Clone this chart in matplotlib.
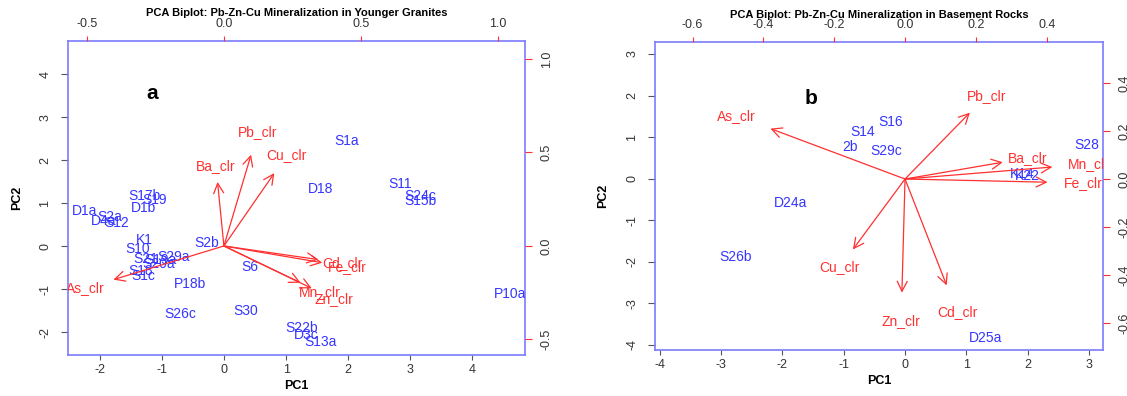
import matplotlib
matplotlib.use("Agg")
from matplotlib import pyplot as plt
from matplotlib.ticker import FormatStrFormatter

plt.rcParams['font.family'] = ['Liberation Sans', 'DejaVu Sans']
plt.rcParams['axes.unicode_minus'] = False

# variables (loadings) -- same order in both panels
var_names = ["As_clr", "Ba_clr", "Cd_clr", "Cu_clr", "Fe_clr", "Mn_clr", "Pb_clr", "Zn_clr"]

# panel a: younger granites
a_samples = ["S1a", "D18", "S11", "S24c", "S15b", "P10a", "S22b", "D3c", "S13a", "S30",
             "S26c", "P18b", "S6", "S2b", "S29a", "S21", "S19a", "S20a", "S10", "K1",
             "S18", "S1c", "D1a", "S2a", "D4a", "S12", "S17b", "S19", "D1b"]
a_pc1 = [1.98, 1.55, 2.84, 3.16, 3.16, 4.61, 1.24, 1.32, 1.55, 0.35,
         -0.71, -0.55, 0.42, -0.29, -0.81, -1.26, -1.03, -1.06, -1.40, -1.29,
         -1.35, -1.31, -2.26, -1.84, -1.95, -1.74, -1.29, -1.13, -1.31]
a_pc2 = [2.44, 1.33, 1.44, 1.16, 1.05, -1.12, -1.91, -2.07, -2.23, -1.51,
         -1.58, -0.88, -0.49, 0.07, -0.26, -0.30, -0.33, -0.42, -0.07, 0.14,
         -0.58, -0.70, 0.81, 0.67, 0.58, 0.53, 1.16, 1.07, 0.88]
a_load1 = [-0.504, -0.029, 0.431, 0.230, 0.449, 0.350, 0.124, 0.401]
a_load2 = [-0.225, 0.428, -0.091, 0.487, -0.112, -0.246, 0.610, -0.283]

# panel b: basement rocks
b_samples = ["S16", "S14", "2b", "S29c", "D24a", "S26b", "S28", "K14", "K22", "D25a"]
b_pc1 = [-0.23, -0.69, -0.90, -0.31, -1.86, -2.77, 2.97, 1.91, 1.99, 1.32]
b_pc2 = [1.37, 1.11, 0.77, 0.67, -0.58, -1.88, 0.80, 0.12, 0.05, -3.83]
b_load1 = [-0.475, 0.345, 0.147, -0.184, 0.503, 0.520, 0.229, -0.011]
b_load2 = [0.2625, 0.0875, -0.554, -0.367, -0.0167, 0.0625, 0.346, -0.592]

blue = '#3535ff'
red = '#ff3030'
frame = '#7a7aff'

fig = plt.figure(figsize=(11.27, 3.96), dpi=100)


def biplot(rect, names, pc1, pc2, l1, l2, xlim, ylim, xlim2, ylim2,
           xt, yt, xt2, yt2, title, letter, letter_pos, ylab_x):
    ax = fig.add_axes(rect)
    ax.set_xlim(xlim)
    ax.set_ylim(ylim)
    for n, x, y in zip(names, pc1, pc2):
        ax.text(x, y, n, color=blue, fontsize=10, ha='center', va='center', clip_on=True)
    ax.set_xticks(xt)
    ax.set_yticks(yt)
    ax.tick_params(axis='x', length=3.6, pad=2.9, labelsize=9, color='#555555', labelcolor='#333333')
    ax.tick_params(axis='y', length=5, pad=7, labelsize=9, color='#555555', labelcolor='#333333',
                   labelrotation=90)
    for t in ax.get_yticklabels():
        t.set_va('center')
    for s in ax.spines.values():
        s.set_color(frame)
        s.set_linewidth(1.2)
    ax.text(letter_pos[0], letter_pos[1], letter, transform=ax.transAxes,
            fontsize=15, fontweight='bold', ha='center', va='center')
    ax.set_xlabel('PC1', fontsize=9, fontweight='bold', labelpad=3)
    fig.text(ylab_x, rect[1] + rect[3] / 2, 'PC2', rotation=90, fontsize=9,
             fontweight='bold', ha='center', va='center')

    ax2 = fig.add_axes(rect, frameon=False)
    ax2.patch.set_visible(False)
    ax2.set_xlim(xlim2)
    ax2.set_ylim(ylim2)
    ax2.xaxis.tick_top()
    ax2.yaxis.tick_right()
    ax2.set_xticks(xt2)
    ax2.set_yticks(yt2)
    ax2.xaxis.set_major_formatter(FormatStrFormatter('%.1f'))
    ax2.yaxis.set_major_formatter(FormatStrFormatter('%.1f'))
    ax2.tick_params(axis='x', length=3.6, pad=4.3, labelsize=9, color=red, labelcolor='#333333')
    ax2.tick_params(axis='y', length=5, pad=6.5, labelsize=9, color=red, labelcolor='#333333',
                    labelrotation=90)
    for t in ax2.get_yticklabels():
        t.set_va('center')
    for n, x, y in zip(var_names, l1, l2):
        ax2.annotate('', xy=(0.8 * x, 0.8 * y), xytext=(0, 0),
                     arrowprops=dict(arrowstyle='->,head_length=0.6,head_width=0.3',
                                     color=red, lw=0.9, mutation_scale=12,
                                     shrinkA=0, shrinkB=0))
        ax2.text(x, y, n, color=red, fontsize=10, ha='center', va='center', clip_on=True)
    fig.text(rect[0] + rect[2] / 2, title[1], title[0], fontsize=8, fontweight='bold',
             ha='center', va='center')


rect_a = [68 / 1127, 1 - 355 / 396, (525 - 68) / 1127, (355 - 41) / 396]
biplot(rect_a, a_samples, a_pc1, a_pc2, a_load1, a_load2,
       (-2.52, 4.85), (-2.53, 4.77), (-0.569, 1.099), (-0.583, 1.096),
       [-2, -1, 0, 1, 2, 3, 4], [-2, -1, 0, 1, 2, 3, 4],
       [-0.5, 0.0, 0.5, 1.0], [-0.5, 0.0, 0.5, 1.0],
       ("PCA Biplot: Pb-Zn-Cu Mineralization in Younger Granites", 1 - 13 / 396),
       'a', (0.184, 0.834), 17 / 1127)

rect_b = [655 / 1127, 1 - 350 / 396, (1103 - 655) / 1127, (350 - 42) / 396]
biplot(rect_b, b_samples, b_pc1, b_pc2, b_load1, b_load2,
       (-4.08, 3.23), (-4.13, 3.29), (-0.706, 0.559), (-0.7125, 0.571),
       [-4, -3, -2, -1, 0, 1, 2, 3], [-4, -3, -2, -1, 0, 1, 2, 3],
       [-0.6, -0.4, -0.2, 0.0, 0.2, 0.4], [-0.6, -0.4, -0.2, 0.0, 0.2, 0.4],
       ("PCA Biplot: Pb-Zn-Cu Mineralization in Basement Rocks", 1 - 15 / 396),
       'b', (0.348, 0.815), 603 / 1127)

fig.savefig('out.png', dpi=100)
